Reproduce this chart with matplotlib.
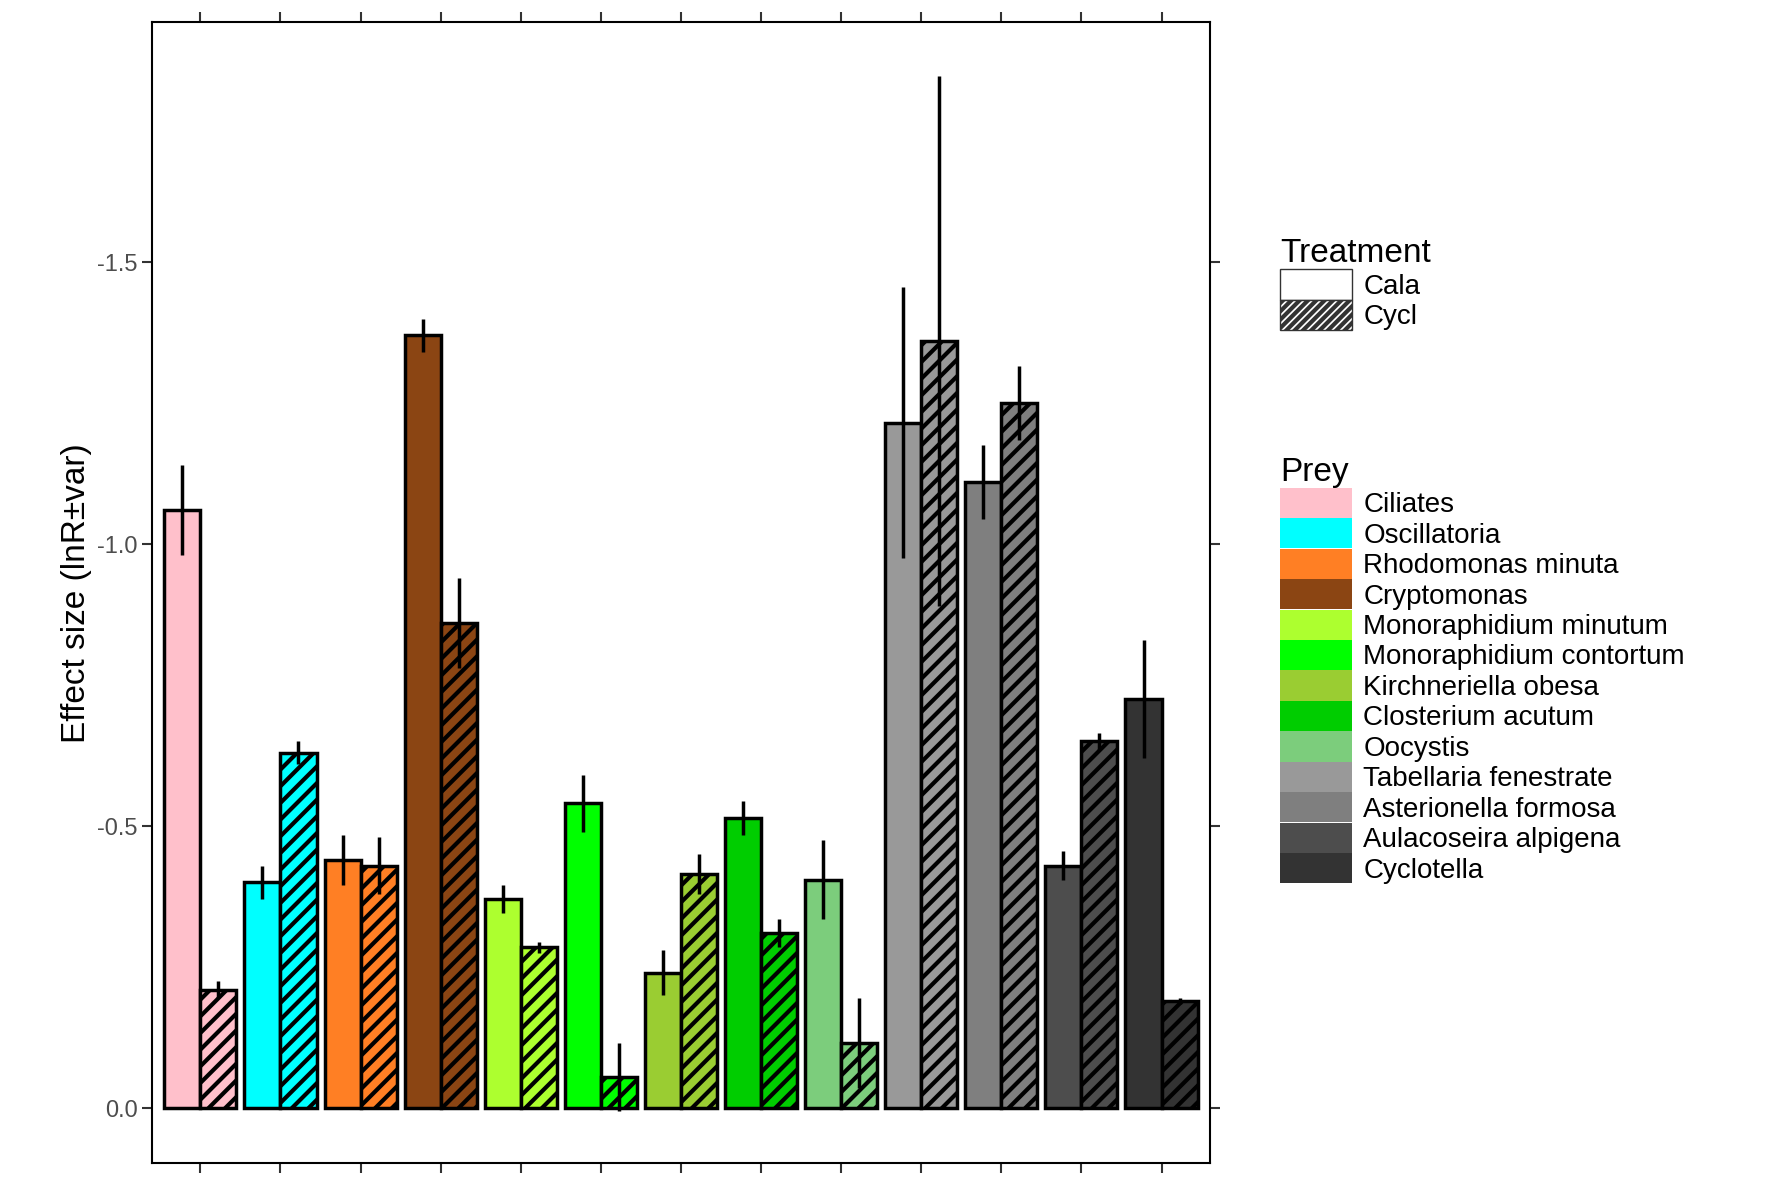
import numpy as np
import matplotlib.pyplot as plt
from matplotlib.patches import Patch

plt.rcParams['font.family'] = ['Liberation Sans', 'DejaVu Sans']
plt.rcParams['hatch.color'] = '#333333'
plt.rcParams['hatch.linewidth'] = 3.0

prey = ["Ciliates", "Oscillatoria", "Rhodomonas minuta", "Cryptomonas",
        "Monoraphidium minutum", "Monoraphidium contortum", "Kirchneriella obesa",
        "Closterium acutum", "Oocystis", "Tabellaria fenestrate",
        "Asterionella formosa", "Aulacoseira alpigena", "Cyclotella"]
colors = ["#FFC0CB", "#00FFFF", "#FF7F24", "#8B4513", "#ADFF2F", "#00FF00",
          "#9ACD32", "#00CD00", "#7CCD7C", "#999999", "#7F7F7F", "#4D4D4D", "#333333"]
cala = [-1.06, -0.40, -0.44, -1.37, -0.37, -0.54, -0.24, -0.515, -0.405, -1.215, -1.11, -0.43, -0.725]
cala_err = [0.08, 0.03, 0.045, 0.03, 0.025, 0.05, 0.04, 0.03, 0.07, 0.24, 0.065, 0.025, 0.105]
cycl = [-0.21, -0.63, -0.43, -0.86, -0.285, -0.055, -0.415, -0.31, -0.115, -1.36, -1.25, -0.65, -0.19]
cycl_err = [0.015, 0.02, 0.05, 0.08, 0.01, 0.06, 0.035, 0.025, 0.08, 0.47, 0.065, 0.015, 0.005]

fig = plt.figure(figsize=(17.71, 11.81), dpi=100)
ax = fig.add_axes([0.086, 0.015, 0.597, 0.966])

x = np.arange(len(prey))
w = 0.45
ax.bar(x - w / 2, cala, w, color=colors, edgecolor='black', linewidth=2.5)
ax.bar(x + w / 2, cycl, w, color=colors, edgecolor='black', linewidth=2.5, hatch='//')
ax.errorbar(x - w / 2, cala, yerr=cala_err, fmt='none', ecolor='black', elinewidth=2.5)
ax.errorbar(x + w / 2, cycl, yerr=cycl_err, fmt='none', ecolor='black', elinewidth=2.5)

ax.set_xlim(-0.6, len(prey) - 0.4)
ax.set_ylim(0.098, -1.925)
ax.set_yticks([0.0, -0.5, -1.0, -1.5])
ax.set_yticklabels(["0.0", "-0.5", "-1.0", "-1.5"], fontsize=17, color='#4D4D4D')
ax.set_xticks(x)
ax.set_xticklabels([])
ax.tick_params(top=True, right=True, length=7, width=1.5, color='#333333')
ax.set_ylabel("Effect size (lnR±var)", fontsize=24)
for s in ax.spines.values():
    s.set_linewidth(1.5)

h1 = [Patch(facecolor='white', edgecolor='#333333', linewidth=1),
      Patch(facecolor='white', edgecolor='#333333', linewidth=1, hatch='////')]
leg1 = fig.legend(h1, ["Cala", "Cycl"], title="Treatment", loc='upper left',
                  bbox_to_anchor=(0.715, 0.81), frameon=False, fontsize=20,
                  title_fontsize=24, handlelength=2.6, handleheight=1.3,
                  labelspacing=0.0, handletextpad=0.4, borderpad=0)
leg1._legend_box.align = 'left'
h2 = [Patch(facecolor=c, edgecolor='none') for c in colors]
leg2 = fig.legend(h2, prey, title="Prey", loc='upper left',
                  bbox_to_anchor=(0.715, 0.625), frameon=False, fontsize=20,
                  title_fontsize=24, handlelength=2.6, handleheight=1.3,
                  labelspacing=0.0, handletextpad=0.4, borderpad=0)
leg2._legend_box.align = 'left'

plt.savefig("out.png")
